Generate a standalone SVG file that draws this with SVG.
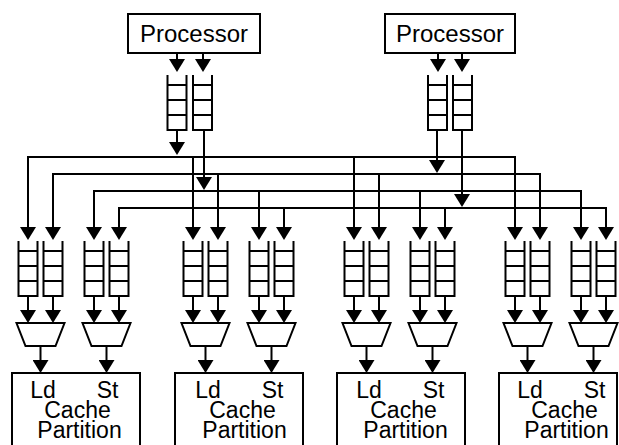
<svg xmlns="http://www.w3.org/2000/svg" xmlns:xlink="http://www.w3.org/1999/xlink" width="619" height="445" viewBox="0 0 619 445">
  <style>
    .box { fill: #fff; stroke: #000; stroke-width: 2; }
    .q { fill: none; stroke: #000; stroke-width: 2; }
    .mux { fill: #fff; stroke: #000; stroke-width: 2; stroke-linejoin: miter; }
    .wire { fill: none; stroke: #000; stroke-width: 2; stroke-linejoin: miter; }
    .arr { marker-end: url(#head); }
    .t { font-family: "Liberation Sans", Arial, Helvetica, sans-serif; fill: #000; text-anchor: middle; }
    .t24 { font-size: 24px; }
    .t23 { font-size: 23px; }
  </style>
  <defs>
    <marker id="head" markerUnits="userSpaceOnUse" markerWidth="13" markerHeight="16" viewBox="0 0 13 16" refX="11" refY="8" orient="auto">
      <path d="M0,0 L13,8 L0,16 Z" fill="#000"/>
    </marker>
    <!-- open-top FIFO queue with four slots, 19 x 55 -->
    <path id="queue" class="q" d="M0,0 V55 H19 V0 M0,10 H19 M0,25 H19 M0,40 H19"/>
    <!-- 2:1 arbiter / multiplexer trapezoid, origin at top centre -->
    <path id="mux" class="mux" d="M-24,0 H24 L15,23 H-15 Z"/>
    <!-- one bank: Ld/St queues, arbiters and their links -->
    <g id="bank">
      <use xlink:href="#queue" x="18.5" y="241"/>
      <use xlink:href="#queue" x="43.5" y="241"/>
      <use xlink:href="#queue" x="84.5" y="241"/>
      <use xlink:href="#queue" x="109.5" y="241"/>
      <path class="wire arr" d="M28,296 V321"/>
      <path class="wire arr" d="M53,296 V321"/>
      <path class="wire arr" d="M94,296 V321"/>
      <path class="wire arr" d="M119,296 V321"/>
      <use xlink:href="#mux" x="40.5" y="323"/>
      <use xlink:href="#mux" x="106.5" y="323"/>
      <path class="wire arr" d="M40.5,346 V371"/>
      <path class="wire arr" d="M106.5,346 V371"/>
    </g>
  </defs>

  <rect width="619" height="445" fill="#fff"/>

  <!-- processors and their outgoing request queues -->
  <g id="processor-1">
    <rect class="box" x="128" y="14" width="132" height="39"/>
    <text class="t t24" x="194" y="42">Processor</text>
  </g>
  <g id="processor-1-queues">
    <use xlink:href="#queue" x="167.5" y="75"/>
    <use xlink:href="#queue" x="193" y="75"/>
  </g>
  <g id="processor-2">
    <rect class="box" x="385" y="14" width="130" height="39"/>
    <text class="t t24" x="450" y="42">Processor</text>
  </g>
  <g id="processor-2-queues">
    <use xlink:href="#queue" x="428" y="75"/>
    <use xlink:href="#queue" x="453" y="75"/>
  </g>

  <!-- memory banks -->
  <g id="bank-1">
    <use xlink:href="#bank"/>
    <g id="cache-partition-1">
      <rect class="box" x="12" y="373" width="128" height="90"/>
      <text class="t t23" x="43" y="398">Ld</text>
      <text class="t t23" x="107.5" y="398">St</text>
      <text class="t t23" x="77.5" y="418">Cache</text>
      <text class="t t23" x="79.5" y="438">Partition</text>
    </g>
  </g>
  <g id="bank-2" transform="translate(165,0)">
    <use xlink:href="#bank"/>
    <g id="cache-partition-2">
      <rect class="box" x="10" y="373" width="128" height="90"/>
      <text class="t t23" x="43" y="398">Ld</text>
      <text class="t t23" x="107.5" y="398">St</text>
      <text class="t t23" x="77.5" y="418">Cache</text>
      <text class="t t23" x="79.5" y="438">Partition</text>
    </g>
  </g>
  <g id="bank-3" transform="translate(326,0)">
    <use xlink:href="#bank"/>
    <g id="cache-partition-3">
      <rect class="box" x="11" y="373" width="128" height="90"/>
      <text class="t t23" x="43" y="398">Ld</text>
      <text class="t t23" x="107.5" y="398">St</text>
      <text class="t t23" x="77.5" y="418">Cache</text>
      <text class="t t23" x="79.5" y="438">Partition</text>
    </g>
  </g>
  <g id="bank-4" transform="translate(487,0)">
    <use xlink:href="#bank"/>
    <g id="cache-partition-4">
      <rect class="box" x="12" y="373" width="118" height="90"/>
      <text class="t t23" x="43" y="398">Ld</text>
      <text class="t t23" x="107.5" y="398">St</text>
      <text class="t t23" x="77.5" y="418">Cache</text>
      <text class="t t23" x="79.5" y="438">Partition</text>
    </g>
  </g>

  <!-- connectors -->
  <g id="connectors">
    <!-- processor to queues -->
    <path class="wire arr" d="M177,53 V70"/>
    <path class="wire arr" d="M203,53 V70"/>
    <path class="wire arr" d="M438,53 V70"/>
    <path class="wire arr" d="M462,53 V70"/>
    <!-- queues onto the distribution buses -->
    <path class="wire arr" d="M177,130 V153"/>
    <path class="wire arr" d="M204,130 V188"/>
    <path class="wire arr" d="M437,130 V171"/>
    <path class="wire arr" d="M462,130 V205"/>
    <!-- bus 1: processor 1 loads -->
    <path class="wire arr" d="M270,157 H28 V238"/>
    <path class="wire arr" d="M270,157 H515 V238"/>
    <path class="wire arr" d="M193,157 V238"/>
    <path class="wire arr" d="M354,157 V238"/>
    <!-- bus 2: processor 2 loads -->
    <path class="wire arr" d="M300,174 H53 V238"/>
    <path class="wire arr" d="M300,174 H540 V238"/>
    <path class="wire arr" d="M218,174 V238"/>
    <path class="wire arr" d="M379,174 V238"/>
    <!-- bus 3: processor 1 stores -->
    <path class="wire arr" d="M300,191 H94 V238"/>
    <path class="wire arr" d="M300,191 H581 V238"/>
    <path class="wire arr" d="M259,191 V238"/>
    <path class="wire arr" d="M420,191 V238"/>
    <!-- bus 4: processor 2 stores -->
    <path class="wire arr" d="M300,208 H119 V238"/>
    <path class="wire arr" d="M300,208 H606 V238"/>
    <path class="wire arr" d="M284,208 V238"/>
    <path class="wire arr" d="M445,208 V238"/>
  </g>
</svg>
